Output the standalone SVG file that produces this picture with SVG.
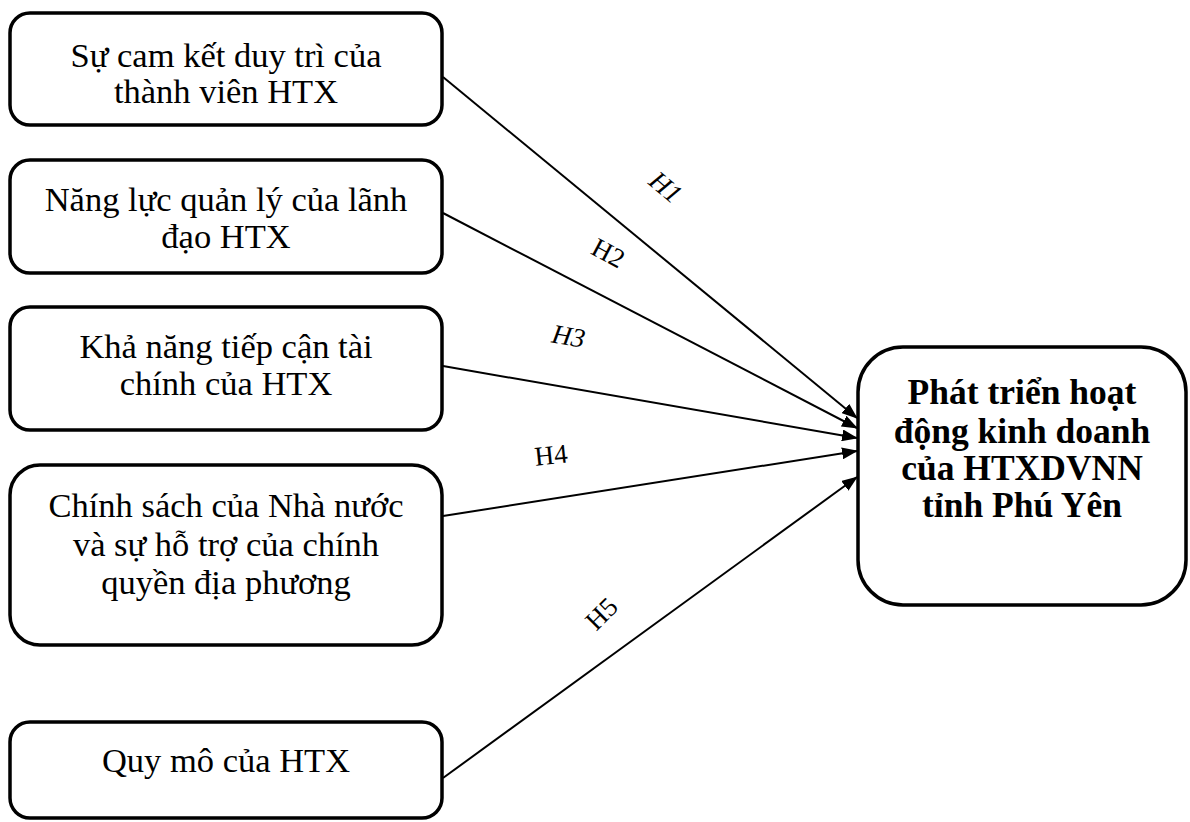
<svg xmlns="http://www.w3.org/2000/svg" width="1190" height="822" viewBox="0 0 1190 822">
<style>
.box{fill:#fff;stroke:#000;stroke-width:3.5}
.t{font-family:"Liberation Serif","Times New Roman",serif;font-size:34.5px;text-anchor:middle;fill:#000}
.b{font-weight:bold;font-size:35.5px}
.lbl{font-family:"Liberation Serif","Times New Roman",serif;font-size:27px;text-anchor:middle;fill:#000}
.i{font-style:italic}
.c{stroke:#000;stroke-width:2;fill:none;marker-end:url(#ah)}
</style>
<defs>
<marker id="ah" markerWidth="16" markerHeight="12" refX="15" refY="6" orient="auto" markerUnits="userSpaceOnUse">
<path d="M0,0 L16,6 L0,12 Z" fill="#000"/>
</marker>
</defs>
<rect width="1190" height="822" fill="#fff"/>
<g id="n1"><rect class="box" x="10" y="13" width="432" height="112" rx="20"/>
<text class="t" x="226" y="67">Sự cam kết duy trì của</text>
<text class="t" x="226" y="103">thành viên HTX</text></g>
<g id="n2"><rect class="box" x="10" y="160" width="432" height="113" rx="20"/>
<text class="t" x="226" y="211">Năng lực quản lý của lãnh</text>
<text class="t" x="226" y="248">đạo HTX</text></g>
<g id="n3"><rect class="box" x="10" y="307" width="432" height="123" rx="20"/>
<text class="t" x="226" y="358">Khả năng tiếp cận tài</text>
<text class="t" x="226" y="395">chính của HTX</text></g>
<g id="n4"><rect class="box" x="10" y="465" width="432" height="180" rx="30"/>
<text class="t" x="226" y="517">Chính sách của Nhà nước</text>
<text class="t" x="226" y="556">và sự hỗ trợ của chính</text>
<text class="t" x="226" y="594">quyền địa phương</text></g>
<g id="n5"><rect class="box" x="10" y="722" width="432" height="96" rx="20"/>
<text class="t" x="226" y="772">Quy mô của HTX</text></g>
<g id="n6"><rect class="box" x="858" y="347" width="328" height="258" rx="45"/>
<text class="t b" x="1022" y="404">Phát triển hoạt</text>
<text class="t b" x="1022" y="443">động kinh doanh</text>
<text class="t b" x="1022" y="480">của HTXDVNN</text>
<text class="t b" x="1022" y="517">tỉnh Phú Yên</text></g>
<g id="connectors">
<line class="c" x1="443" y1="77" x2="857" y2="418"/>
<line class="c" x1="443" y1="213" x2="857" y2="428"/>
<line class="c" x1="443" y1="366" x2="857" y2="438"/>
<line class="c" x1="443" y1="516" x2="857" y2="451"/>
<line class="c" x1="443" y1="778" x2="857" y2="477"/>
</g>
<g id="labels">
<text class="lbl i" transform="translate(660,194) rotate(40)">H1</text>
<text class="lbl" transform="translate(604,261) rotate(28)">H2</text>
<text class="lbl i" transform="translate(567,345) rotate(10)">H3</text>
<text class="lbl" transform="translate(552,464) rotate(-6)">H4</text>
<text class="lbl" transform="translate(608,620) rotate(-45)">H5</text>
</g>
</svg>
